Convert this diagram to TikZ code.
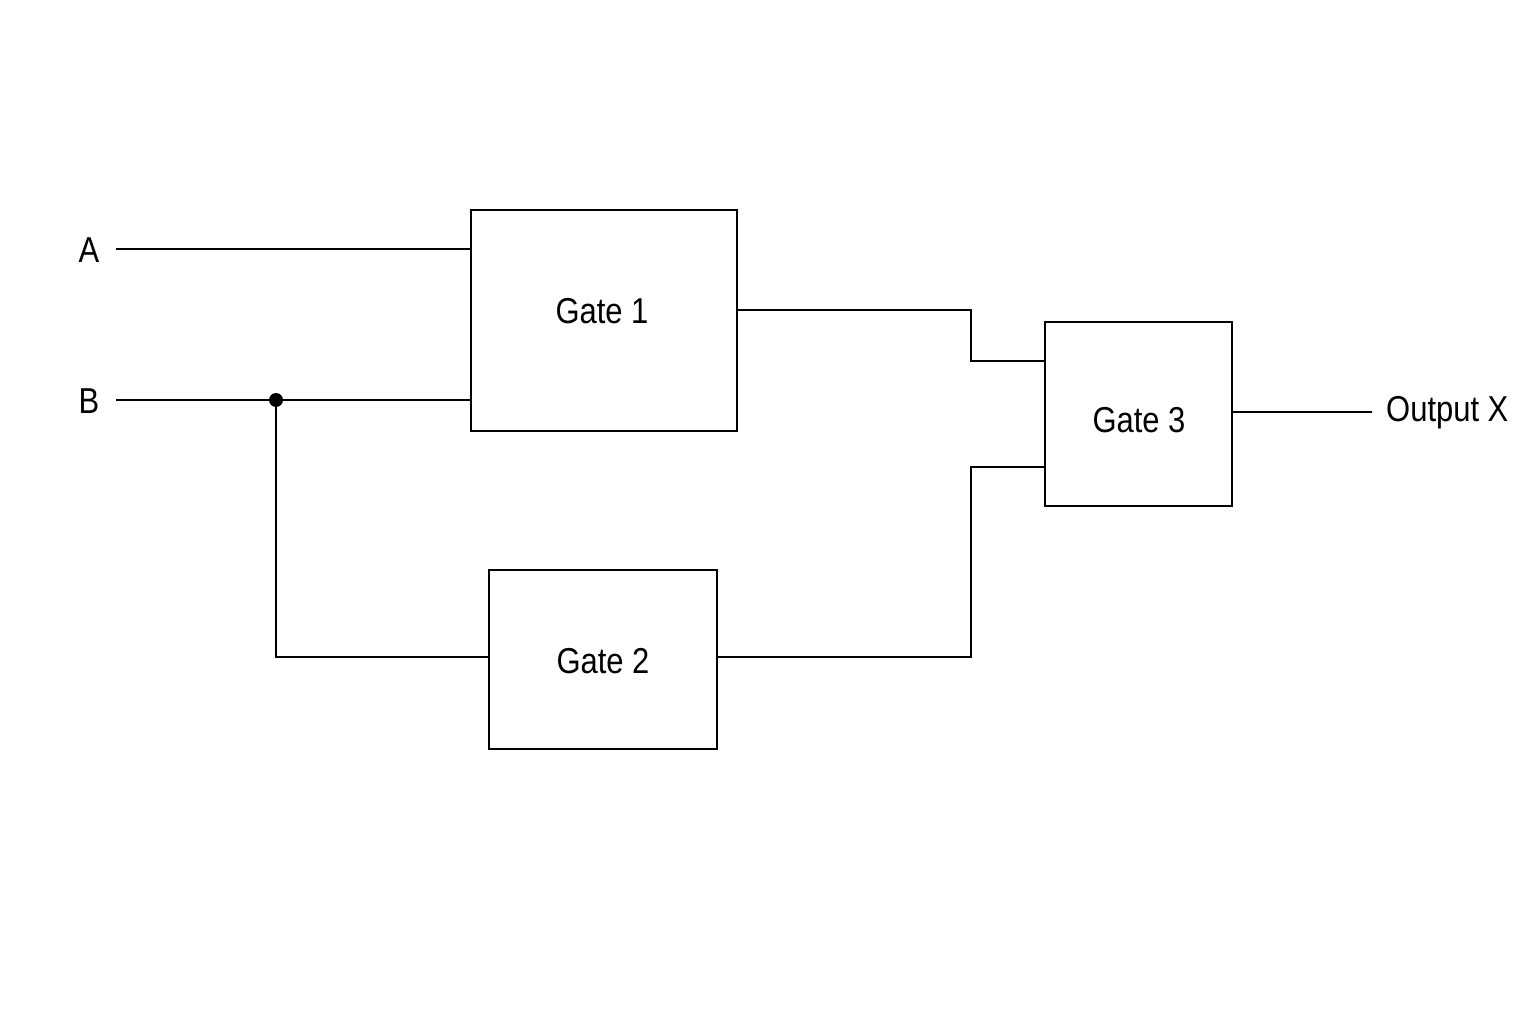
\documentclass[tikz,border=0pt]{standalone}
\usepackage{fontspec}
\setmainfont{Liberation Sans}[FakeStretch=0.86]
\begin{document}
\begin{tikzpicture}[x=1pt,y=-1pt,
  gate/.style={draw,line width=2.5pt,inner sep=0pt},
  wire/.style={line width=2.5pt},
  lbl/.style={font=\fontsize{36}{40}\selectfont,inner sep=0pt}]
\useasboundingbox (0,0) rectangle (1536,1024);
\node[gate,minimum width=266pt,minimum height=221pt] (g1) at (604,320.5) {};
\node[gate,minimum width=228pt,minimum height=179pt] (g2) at (603,659.5) {};
\node[gate,minimum width=187pt,minimum height=184pt] (g3) at (1138.5,414) {};
\node[lbl] (t1) at (602,311) {Gate 1};
\node[lbl] (t2) at (603,661) {Gate 2};
\node[lbl] (t3) at (1139,420) {Gate 3};
\node[lbl] (A) at (89,250) {A};
\node[lbl] (B) at (89,401) {B};
\node[lbl,anchor=west] (X) at (1386,413) {Output X};
\coordinate (a0) at (116,249);
\coordinate (b0) at (116,400);
\coordinate (j) at (276,400);
\coordinate (xe) at (1372,412);
\draw[wire] (a0) -- (a0 -| g1.west);
\draw[wire] (b0) -- (b0 -| g1.west);
\fill (j) circle (7pt);
\draw[wire] (j) -- (276,657) -- (g2.west |- 0,657);
\draw[wire] (g1.east |- 0,310) -- (971,310) -- (971,361) -- (g3.west |- 0,361);
\draw[wire] (g2.east |- 0,657) -- (971,657) -- (971,467) -- (g3.west |- 0,467);
\draw[wire] (g3.east |- xe) -- (xe);
\end{tikzpicture}
\end{document}
